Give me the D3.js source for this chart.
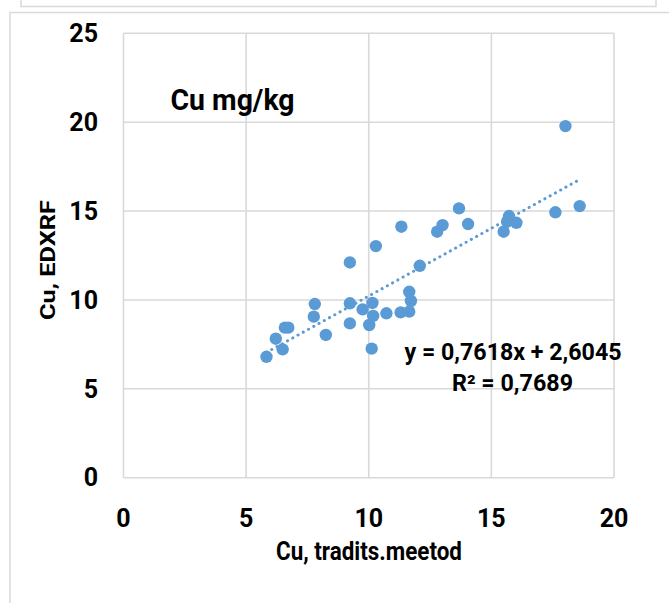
<!DOCTYPE html>
<html>
<head>
<meta charset="utf-8">
<script src="https://cdn.jsdelivr.net/npm/d3@7"></script>
<style>
  html, body { margin: 0; padding: 0; background: #fff; }
  text { font-family: "Liberation Sans Narrow", "Roboto", "Open Sans", sans-serif; font-weight: bold; fill: #000; }
</style>
</head>
<body>
<svg id="chart" width="669" height="603"></svg>
<script>
// ---- data ----
const xValues = [5.83, 6.21, 6.49, 6.58, 6.72, 7.80, 7.76, 8.25, 9.23, 9.23, 9.23, 9.75, 10.15, 10.18, 10.02, 10.12, 10.29, 10.72, 11.30, 11.33, 11.65, 11.72, 11.65, 12.08, 12.79, 13.01, 13.68, 14.05, 15.50, 15.64, 15.72, 16.02, 17.61, 18.02, 18.60];
const yValues = [6.80, 7.82, 7.22, 8.44, 8.44, 9.77, 9.06, 8.03, 12.11, 9.81, 8.68, 9.47, 9.83, 9.10, 8.59, 7.26, 13.03, 9.25, 9.30, 14.12, 9.34, 9.94, 10.46, 11.92, 13.84, 14.21, 15.15, 14.27, 13.84, 14.40, 14.72, 14.34, 14.93, 19.78, 15.28];
const xTicks = [0, 5, 10, 15, 20];
const yTicks = [0, 5, 10, 15, 20, 25];
const trendSlope = [0.7618];
const trendIntercept = [2.6045];
const chartTitle = "Cu mg/kg";
const xTitle = "Cu, tradits.meetod";
const yTitle = "Cu, EDXRF";
const eqLabel = "y = 0,7618x + 2,6045";
const r2Label = "R² = 0,7689";

// ---- layout ----
const svg = d3.select("#chart");
const x = d3.scaleLinear().domain([0, 20]).range([123.5, 614]);
const y = d3.scaleLinear().domain([0, 25]).range([477.7, 33.3]);
const grid = "#d9d9d9";
const blue = "#5b9bd5";

// outer frames
svg.append("path").attr("d", "M21,0 V6.5 H656 V0").attr("fill", "none").attr("stroke", grid).attr("stroke-width", 1.5);
svg.append("path").attr("d", "M10,603 V12.5 H669").attr("fill", "none").attr("stroke", grid).attr("stroke-width", 1.5);

// gridlines
const g = svg.append("g");
g.selectAll("line.h").data(yTicks).join("line")
  .attr("x1", x(0)).attr("x2", x(20))
  .attr("y1", d => y(d)).attr("y2", d => y(d))
  .attr("stroke", grid).attr("stroke-width", 1.6);
g.selectAll("line.v").data(xTicks).join("line")
  .attr("y1", y(0)).attr("y2", y(25))
  .attr("x1", d => x(d)).attr("x2", d => x(d))
  .attr("stroke", grid).attr("stroke-width", 1.6);

// tick labels
svg.append("g").selectAll("text").data(yTicks).join("text")
  .attr("x", 98).attr("y", d => y(d)).attr("dy", "0.35em")
  .attr("text-anchor", "end").attr("font-size", 25)
  .text(d => d);
svg.append("g").selectAll("text").data(xTicks).join("text")
  .attr("x", d => x(d)).attr("y", 518.5).attr("dy", "0.35em")
  .attr("text-anchor", "middle").attr("font-size", 25)
  .text(d => d);

// trendline
const xmin = d3.min(xValues), xmax = d3.max(xValues);
const trend = [xmin, xmax].map(v => [v, trendSlope[0] * v + trendIntercept[0]]);
svg.append("path")
  .attr("d", d3.line().x(d => x(d[0])).y(d => y(d[1]))(trend))
  .attr("fill", "none").attr("stroke", blue).attr("stroke-width", 3)
  .attr("stroke-linecap", "round").attr("stroke-dasharray", "0.1 5.9");

// points
svg.append("g").selectAll("circle").data(xValues.map((v, i) => [v, yValues[i]])).join("circle")
  .attr("cx", d => x(d[0])).attr("cy", d => y(d[1])).attr("r", 6.2)
  .attr("fill", blue);

// titles
svg.append("text").attr("x", 170.5).attr("y", 110).attr("font-size", 30)
  .attr("textLength", 124).attr("lengthAdjust", "spacingAndGlyphs").text(chartTitle);
svg.append("text").attr("x", 369).attr("y", 560).attr("text-anchor", "middle").attr("font-size", 25)
  .attr("textLength", 186).attr("lengthAdjust", "spacingAndGlyphs").text(xTitle);
svg.append("text").attr("transform", "translate(55,260) rotate(-90)").attr("text-anchor", "middle").attr("font-size", 20)
  .attr("textLength", 120).attr("lengthAdjust", "spacingAndGlyphs").text(yTitle);

// equation
svg.append("text").attr("x", 513).attr("y", 360).attr("text-anchor", "middle").attr("font-size", 23)
  .attr("textLength", 217).attr("lengthAdjust", "spacingAndGlyphs").text(eqLabel);
svg.append("text").attr("x", 512.5).attr("y", 391).attr("text-anchor", "middle").attr("font-size", 23)
  .attr("textLength", 121).attr("lengthAdjust", "spacingAndGlyphs").text(r2Label);
</script>
</body>
</html>
